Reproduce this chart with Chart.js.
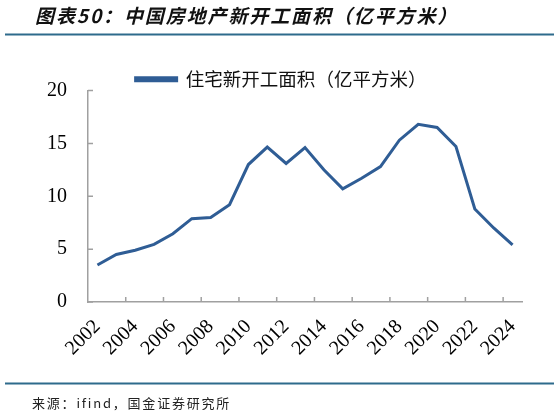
<!DOCTYPE html>
<html>
<head>
<meta charset="utf-8">
<script src="https://cdn.jsdelivr.net/npm/chart.js@4/dist/chart.umd.min.js"></script>
<style>
  html, body { margin: 0; padding: 0; background: #fff; }
  #wrap { width: 559px; height: 416px; position: relative; }
</style>
</head>
<body>
<div id="wrap"><canvas id="c"></canvas></div>
<script>
// data
const years = ['2002', '2003', '2004', '2005', '2006', '2007', '2008', '2009', '2010', '2011', '2012',
  '2013', '2014', '2015', '2016', '2017', '2018', '2019', '2020', '2021', '2022', '2023', '2024'];
const starts = [3.5, 4.5, 4.9, 5.45, 6.45, 7.88, 7.98, 9.2, 13.0, 14.65, 13.1,
  14.6, 12.5, 10.7, 11.7, 12.8, 15.3, 16.8, 16.5, 14.7, 8.8, 7.0, 5.4];
const yTicks = [0, 5, 10, 15, 20];

const titleText = '图表50：中国房地产新开工面积（亿平方米）';
const seriesName = '住宅新开工面积（亿平方米）';
const sourceText = '来源：ifind，国金证券研究所';

const lineColor = '#2f5d95';
const axisColor = '#a0a0a0';

// frame: title, rules, source, inward tick marks
const decor = {
  id: 'decor',
  afterDraw(chart) {
    const ctx = chart.ctx;
    const x = chart.scales.x, y = chart.scales.y;
    ctx.save();
    // rules
    ctx.strokeStyle = '#2e6b8c';
    ctx.lineWidth = 2;
    ctx.beginPath();
    ctx.moveTo(5, 34.5); ctx.lineTo(554, 34.5);
    ctx.moveTo(5, 383.5); ctx.lineTo(554, 383.5);
    ctx.stroke();
    // title
    ctx.fillStyle = '#111';
    ctx.textBaseline = 'middle';
    ctx.textAlign = 'left';
    ctx.letterSpacing = '1.9px';
    ctx.font = 'italic bold 19px "Noto Sans CJK SC"';
    ctx.fillText(titleText, 35, 16);
    // source
    ctx.letterSpacing = '1.8px';
    ctx.fillStyle = '#222';
    ctx.font = '13px "Noto Sans CJK SC"';
    ctx.fillText(sourceText, 32, 403);
    ctx.letterSpacing = '0px';
    // inward ticks
    ctx.strokeStyle = axisColor;
    ctx.lineWidth = 1.5;
    ctx.beginPath();
    yTicks.forEach(v => {
      const py = y.getPixelForValue(v);
      ctx.moveTo(x.left, py); ctx.lineTo(x.left + 5, py);
    });
    for (let i = 1; i < years.length - 1; i += 2) {
      const px = (x.getPixelForValue(i) + x.getPixelForValue(i + 1)) / 2;
      ctx.moveTo(px, y.bottom); ctx.lineTo(px, y.bottom - 5);
    }
    ctx.stroke();
    ctx.restore();
  }
};

new Chart(document.getElementById('c'), {
  type: 'line',
  data: {
    labels: years,
    datasets: [{
      label: seriesName,
      data: starts,
      borderColor: lineColor,
      backgroundColor: lineColor,
      borderWidth: 3,
      pointRadius: 0,
      tension: 0
    }]
  },
  options: {
    responsive: true,
    maintainAspectRatio: false,
    animation: false,
    layout: { padding: { left: 40, right: 37, top: 62, bottom: 54 } },
    plugins: {
      legend: {
        maxHeight: 28.5,
        labels: {
          boxWidth: 41,
          boxHeight: 3,
          padding: 8,
          color: '#111',
          font: { family: '"Noto Sans CJK SC"', size: 18.5 }
        }
      },
      tooltip: { enabled: false }
    },
    scales: {
      x: {
        offset: true,
        grid: { display: false, drawTicks: false },
        border: { color: axisColor, width: 1.5 },
        afterFit: s => { s.height = 60; },
        ticks: {
          autoSkip: false,
          maxRotation: 45,
          minRotation: 45,
          padding: 13,
          color: '#000',
          font: { family: '"Liberation Serif"', size: 20 },
          callback: (v, i) => (i % 2 === 0 ? years[i] : '')
        }
      },
      y: {
        min: 0,
        max: 20,
        grid: { display: false, drawTicks: false },
        border: { color: axisColor, width: 1.5 },
        afterFit: s => { s.width = 48; },
        afterBuildTicks: s => { s.ticks = yTicks.map(v => ({ value: v })); },
        ticks: {
          padding: 21,
          color: '#000',
          font: { family: '"Liberation Serif"', size: 20 }
        }
      }
    }
  },
  plugins: [decor]
});
</script>
</body>
</html>
